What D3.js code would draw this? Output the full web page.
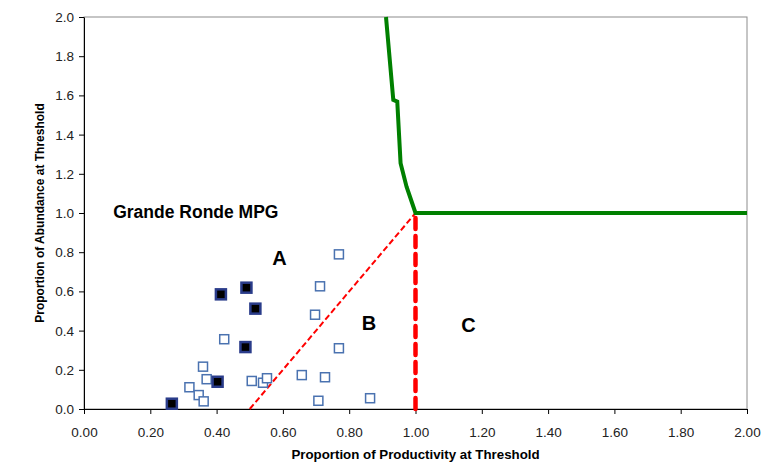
<!DOCTYPE html>
<html>
<head>
<meta charset="utf-8">
<script src="https://cdn.jsdelivr.net/npm/d3@7"></script>
<style>
  body { margin: 0; background: #fff; }
  svg { font-family: "Liberation Sans", Arial, sans-serif; }
</style>
</head>
<body>
<script>
'use strict';

// populations of the MPG (filled = one group, open = the rest)
const filledX = [0.265, 0.413, 0.490, 0.517, 0.487, 0.403];
const filledY = [0.027, 0.585, 0.619, 0.512, 0.316, 0.139];
const openX = [0.769, 0.712, 0.697, 0.769, 0.423, 0.359, 0.370, 0.318, 0.346, 0.361,
               0.506, 0.540, 0.552, 0.657, 0.727, 0.707, 0.863];
const openY = [0.789, 0.626, 0.481, 0.310, 0.356, 0.216, 0.152, 0.111, 0.071, 0.039,
               0.143, 0.134, 0.157, 0.173, 0.162, 0.042, 0.055];

// green threshold curve
const curveX = [0.911, 0.933, 0.945, 0.955, 0.973, 0.988, 1.0, 2.0];
const curveY = [2.0, 1.577, 1.568, 1.254, 1.134, 1.06, 1.0, 1.0];

// red boundaries
const diagX = [0.5, 1.0];
const diagY = [0.0, 1.0];
const vertX = [1.0, 1.0];
const vertY = [0.0, 1.0];

const xTicks = [0, 0.2, 0.4, 0.6, 0.8, 1.0, 1.2, 1.4, 1.6, 1.8, 2.0];
const yTicks = [0, 0.2, 0.4, 0.6, 0.8, 1.0, 1.2, 1.4, 1.6, 1.8, 2.0];

const regionLabels = ['A', 'B', 'C'];
const regionX = [0.59, 0.86, 1.16];
const regionY = [0.735, 0.405, 0.395];

const margin = {top: 17, right: 14, bottom: 55, left: 84},
    width = 761 - margin.left - margin.right,
    height = 464 - margin.top - margin.bottom;

const x = d3.scaleLinear().domain([0, 2]).range([0, width]);
const y = d3.scaleLinear().domain([0, 2]).range([height, 0]);

const svg = d3.select('body').append('svg')
    .attr('width', 761)
    .attr('height', 464)
  .append('g')
    .attr('transform', 'translate(' + margin.left + ',' + margin.top + ')');

// plot frame (top / right in gray)
svg.append('rect')
    .attr('width', width)
    .attr('height', height)
    .attr('fill', 'none')
    .attr('stroke', '#8c8c8c')
    .attr('stroke-width', 1);

// axes
const xAxis = svg.append('g')
    .attr('transform', 'translate(0,' + height + ')')
    .call(d3.axisBottom(x).tickValues(xTicks).tickFormat(d3.format('.2f')).tickSize(5).tickSizeOuter(0));
const yAxis = svg.append('g')
    .call(d3.axisLeft(y).tickValues(yTicks).tickFormat(d3.format('.1f')).tickSize(5).tickSizeOuter(0));

[xAxis, yAxis].forEach(function (a) {
  a.selectAll('path, line').attr('stroke', '#000');
  a.selectAll('text')
      .attr('font-family', '"Liberation Sans", Arial, sans-serif')
      .attr('font-size', 13.5)
      .attr('fill', '#222');
});
xAxis.selectAll('text').attr('dy', '1.45em');
yAxis.selectAll('text').attr('dx', '-0.15em').attr('dy', '0.34em');

// axis titles
svg.append('text')
    .attr('x', x(1.0))
    .attr('y', height + 50)
    .attr('text-anchor', 'middle')
    .attr('font-size', 13.3)
    .attr('font-weight', 'bold')
    .text('Proportion of Productivity at Threshold');

svg.append('text')
    .attr('transform', 'translate(' + (-40) + ',' + y(1.0) + ') rotate(-90)')
    .attr('text-anchor', 'middle')
    .attr('font-size', 12)
    .attr('font-weight', 'bold')
    .text('Proportion of Abundance at Threshold');

// boundary lines
const line = d3.line()
    .x(function (d) { return x(d[0]); })
    .y(function (d) { return y(d[1]); });

svg.append('path')
    .attr('d', line(d3.zip(diagX, diagY)))
    .attr('fill', 'none')
    .attr('stroke', '#ff0000')
    .attr('stroke-width', 2)
    .attr('stroke-dasharray', '6,3');

svg.append('path')
    .attr('d', line(d3.zip(vertX, vertY)))
    .attr('fill', 'none')
    .attr('stroke', '#ff0000')
    .attr('stroke-width', 4.5)
    .attr('stroke-linecap', 'round')
    .attr('stroke-dasharray', '11,7');

svg.append('path')
    .attr('d', line(d3.zip(curveX, curveY)))
    .attr('fill', 'none')
    .attr('stroke', '#008000')
    .attr('stroke-width', 4);

// points
const openPts = d3.zip(openX, openY);
const filledPts = d3.zip(filledX, filledY);

svg.selectAll('rect.open')
    .data(openPts).enter()
    .append('rect')
    .attr('class', 'open')
    .attr('x', function (d) { return x(d[0]) - 4.5; })
    .attr('y', function (d) { return y(d[1]) - 4.5; })
    .attr('width', 9)
    .attr('height', 9)
    .attr('fill', '#fff')
    .attr('stroke', '#4a72b0')
    .attr('stroke-width', 1.5);

svg.selectAll('rect.filled')
    .data(filledPts).enter()
    .append('rect')
    .attr('class', 'filled')
    .attr('x', function (d) { return x(d[0]) - 5; })
    .attr('y', function (d) { return y(d[1]) - 5; })
    .attr('width', 10)
    .attr('height', 10)
    .attr('fill', '#000')
    .attr('stroke', '#2a3c8a')
    .attr('stroke-width', 2.5);

// labels
svg.append('text')
    .attr('x', x(0.088))
    .attr('y', y(1.0) + 5)
    .attr('font-size', 17.5)
    .attr('font-weight', 'bold')
    .text('Grande Ronde MPG');

svg.selectAll('text.region')
    .data(regionLabels).enter()
    .append('text')
    .attr('class', 'region')
    .attr('x', function (d, i) { return x(regionX[i]); })
    .attr('y', function (d, i) { return y(regionY[i]); })
    .attr('text-anchor', 'middle')
    .attr('font-size', 20)
    .attr('font-weight', 'bold')
    .text(function (d) { return d; });
</script>
</body>
</html>
